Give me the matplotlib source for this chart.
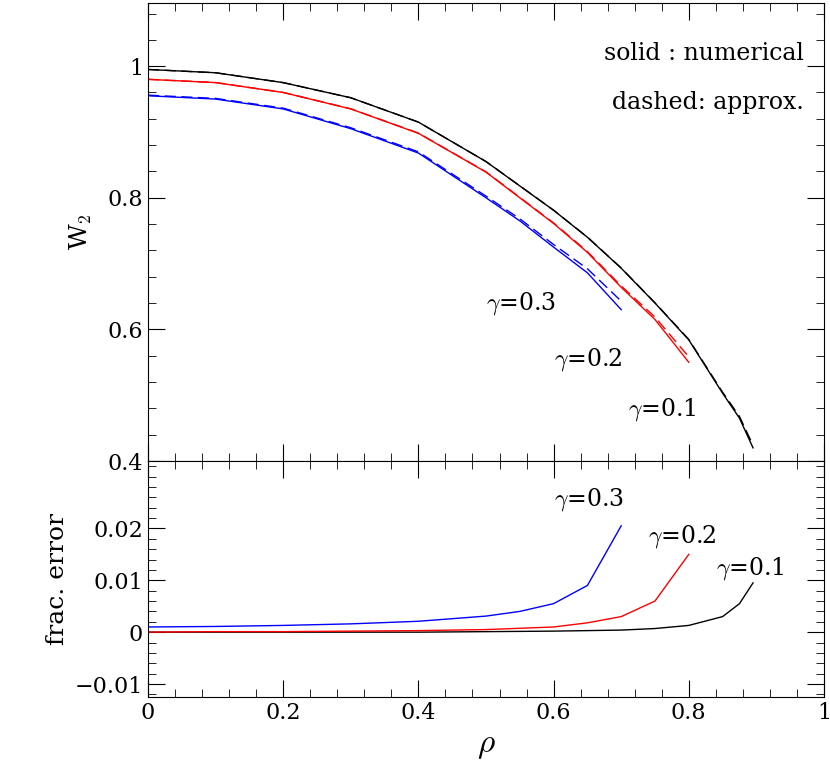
import numpy as np
import matplotlib.pyplot as plt
from matplotlib.ticker import MultipleLocator

plt.rcParams['font.family'] = 'DejaVu Serif'
plt.rcParams['mathtext.fontset'] = 'cm'

# numerical W2 curves
rho_1 = [0, 0.1, 0.2, 0.3, 0.4, 0.5, 0.6, 0.65, 0.7, 0.75, 0.8, 0.85, 0.875, 0.895]
w2_1 = [0.995, 0.99, 0.975, 0.952, 0.915, 0.855, 0.781, 0.74, 0.693, 0.64, 0.584, 0.503, 0.465, 0.42]
rho_2 = [0, 0.1, 0.2, 0.3, 0.4, 0.5, 0.6, 0.65, 0.7, 0.75, 0.8]
w2_2 = [0.98, 0.975, 0.96, 0.935, 0.898, 0.839, 0.761, 0.717, 0.664, 0.615, 0.55]
rho_3 = [0, 0.1, 0.2, 0.3, 0.4, 0.5, 0.55, 0.6, 0.65, 0.7]
w2_3 = [0.955, 0.95, 0.935, 0.905, 0.868, 0.80, 0.765, 0.725, 0.686, 0.63]

# fractional error of the approximation
err_1 = [0, 0, 0, 0, 0, 0.0001, 0.0002, 0.0003, 0.0004, 0.0007, 0.0013, 0.003, 0.0055, 0.0095]
err_2 = [0, 0.0001, 0.0001, 0.0002, 0.0003, 0.0005, 0.001, 0.0018, 0.003, 0.006, 0.015]
err_3 = [0.001, 0.0011, 0.0013, 0.0016, 0.0021, 0.0031, 0.004, 0.0055, 0.009, 0.0205]

fig = plt.figure(figsize=(8.30, 7.74), dpi=100)
ax1 = fig.add_axes([148/830, 1-461/774, 676/830, 458/774])
ax2 = fig.add_axes([148/830, 1-697/774, 676/830, 236/774], sharex=ax1)

series = [(rho_1, w2_1, err_1, 'black'), (rho_2, w2_2, err_2, 'red'), (rho_3, w2_3, err_3, 'blue')]
for r, w, e, c in series:
    w = np.array(w); e = np.array(e)
    ax1.plot(r, w, color=c, lw=1)
    ax1.plot(r, w * (1 + e), color=c, lw=1, ls=(0, (8, 4)))
    ax2.plot(r, e, color=c, lw=1)

ax1.set_xlim(0, 1)
ax1.set_ylim(0.4, 1.096)
ax2.set_ylim(-0.0125, 0.033)

for ax in (ax1, ax2):
    ax.xaxis.set_major_locator(MultipleLocator(0.2))
    ax.xaxis.set_minor_locator(MultipleLocator(0.04))
    ax.tick_params(which='both', direction='in', top=True, right=True, labelsize=16)
    ax.tick_params(which='major', length=12)
    ax.tick_params(which='minor', length=6)
ax1.yaxis.set_major_locator(MultipleLocator(0.2))
ax1.yaxis.set_minor_locator(MultipleLocator(0.04))
ax2.yaxis.set_major_locator(MultipleLocator(0.01))
ax2.yaxis.set_minor_locator(MultipleLocator(0.002))
ax1.tick_params(labelbottom=False)
ax1.set_yticks([0.4, 0.6, 0.8, 1.0])
ax1.set_yticklabels(['0.4', '0.6', '0.8', '1'])
ax2.set_yticks([-0.01, 0, 0.01, 0.02])
ax2.set_yticklabels(['\u22120.01', '0', '0.01', '0.02'])
ax2.set_xticks([0, 0.2, 0.4, 0.6, 0.8, 1.0])
ax2.set_xticklabels(['0', '0.2', '0.4', '0.6', '0.8', '1'])

ax1.set_ylabel('W$_2$', fontsize=18, labelpad=10)
ax2.set_ylabel('frac. error', fontsize=18)
ax2.set_xlabel(r'$\rho$', fontsize=24)

ax1.text(0.97, 1.02, 'solid : numerical', ha='right', va='center', fontsize=17)
ax1.text(0.97, 0.945, 'dashed: approx.', ha='right', va='center', fontsize=17)
ax1.text(0.5, 0.64, r'$\gamma$=0.3', fontsize=17, va='center')
ax1.text(0.6, 0.555, r'$\gamma$=0.2', fontsize=17, va='center')
ax1.text(0.71, 0.478, r'$\gamma$=0.1', fontsize=17, va='center')
ax2.text(0.6, 0.0255, r'$\gamma$=0.3', fontsize=17, va='center')
ax2.text(0.74, 0.0185, r'$\gamma$=0.2', fontsize=17, va='center')
ax2.text(0.84, 0.0122, r'$\gamma$=0.1', fontsize=17, va='center')

fig.savefig('out.png', dpi=100)
